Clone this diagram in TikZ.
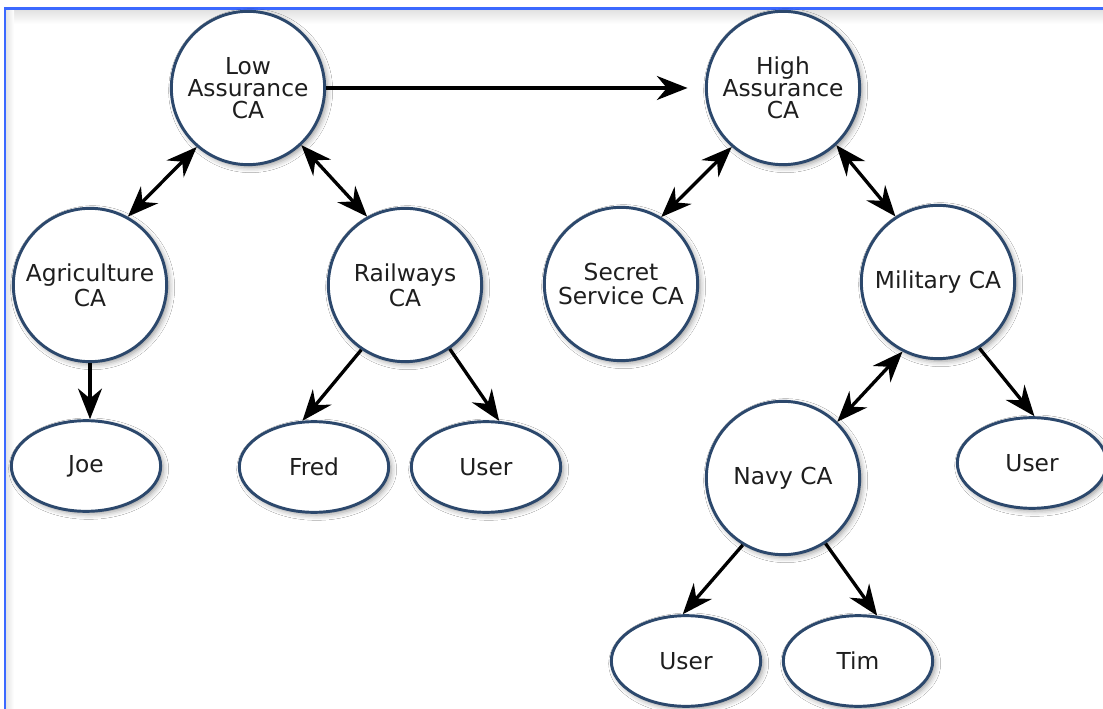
\documentclass[tikz,border=0pt]{standalone}
\usepackage{fontspec}
\setmainfont{DejaVu Sans}
\usetikzlibrary{arrows.meta,shapes.geometric,shadows.blur}
\definecolor{ring}{RGB}{44,72,108}
\definecolor{framecol}{RGB}{60,105,255}
\definecolor{txt}{RGB}{30,30,30}
\tikzset{
  nodebase/.style={draw=ring, line width=2.2pt, fill=white, inner sep=0pt, align=center, text=txt,
    blur shadow={shadow xshift=2pt, shadow yshift=-2pt, shadow blur radius=4pt, shadow opacity=40}},
  ca/.style={nodebase, circle, minimum size=115pt, font=\fontsize{17.5}{18.5}\selectfont},
  ca3/.style={ca, font=\fontsize{17.5}{16.5}\selectfont},
  leaf/.style={nodebase, ellipse, minimum width=112pt, minimum height=68pt, font=\fontsize{17.5}{18.5}\selectfont},
  cahead/.tip={Stealth[length=23pt,width=18pt,inset=7.5pt]},
  conn/.style={line width=2.5pt, -{cahead}},
  bi/.style={line width=2.5pt, {cahead}-{cahead}},
}
\begin{document}
\begin{tikzpicture}[x=0.75pt,y=-0.75pt]
\useasboundingbox (0,0) rectangle (1103,709);
\fill[white] (0,0) rectangle (1103,709);
% frame and its soft shadow
\shade[top color=black!12, bottom color=white] (6,9.5) rectangle (1103,24);
\shade[left color=black!10, right color=white] (6,9.5) rectangle (14,709);
\draw[framecol, line width=1.8pt] (5,709) -- (5,8.5) -- (1103,8.5);

% nodes
\node[ca3] (low) at (248,88) {Low\\Assurance\\CA};
\node[ca3] (high) at (783,88) {High\\Assurance\\CA};
\node[ca] (agri) at (90,285) {Agriculture\\CA};
\node[ca] (rail) at (405,285) {Railways\\CA};
\node[ca] (secret) at (621,284) {Secret\\Service CA};
\node[ca] (mil) at (938,282) {Military CA};
\node[ca] (navy) at (783,478) {Navy CA};
\node[leaf] (joe) at (86,466) {Joe};
\node[leaf] (fred) at (314,467) {Fred};
\node[leaf] (user1) at (486,467) {User};
\node[leaf] (user2) at (1032,463) {User};
\node[leaf] (user3) at (686,661) {User};
\node[leaf] (tim) at (858,661) {Tim};

% connectors
\draw[conn, shorten >=13pt] (low.east) -- (high.west);
\draw[bi] (low.-131) -- (agri.61);
\draw[bi] (low.-47) -- (rail.119);
\draw[bi] (high.-131) -- (secret.59);
\draw[bi] (high.-47) -- (mil.123);
\draw[conn] (agri.south) -- (agri.south |- joe.north);
\draw[conn] (rail.-124) -- (fred.104);
\draw[conn] (rail.-55) -- (user1.74);
\draw[bi] (mil.-117) -- (navy.46);
\draw[conn] (mil.-58) -- (user2.87);
\draw[conn] (navy.-121) -- (user3.94);
\draw[conn] (navy.-57) -- (tim.67);
\end{tikzpicture}
\end{document}
